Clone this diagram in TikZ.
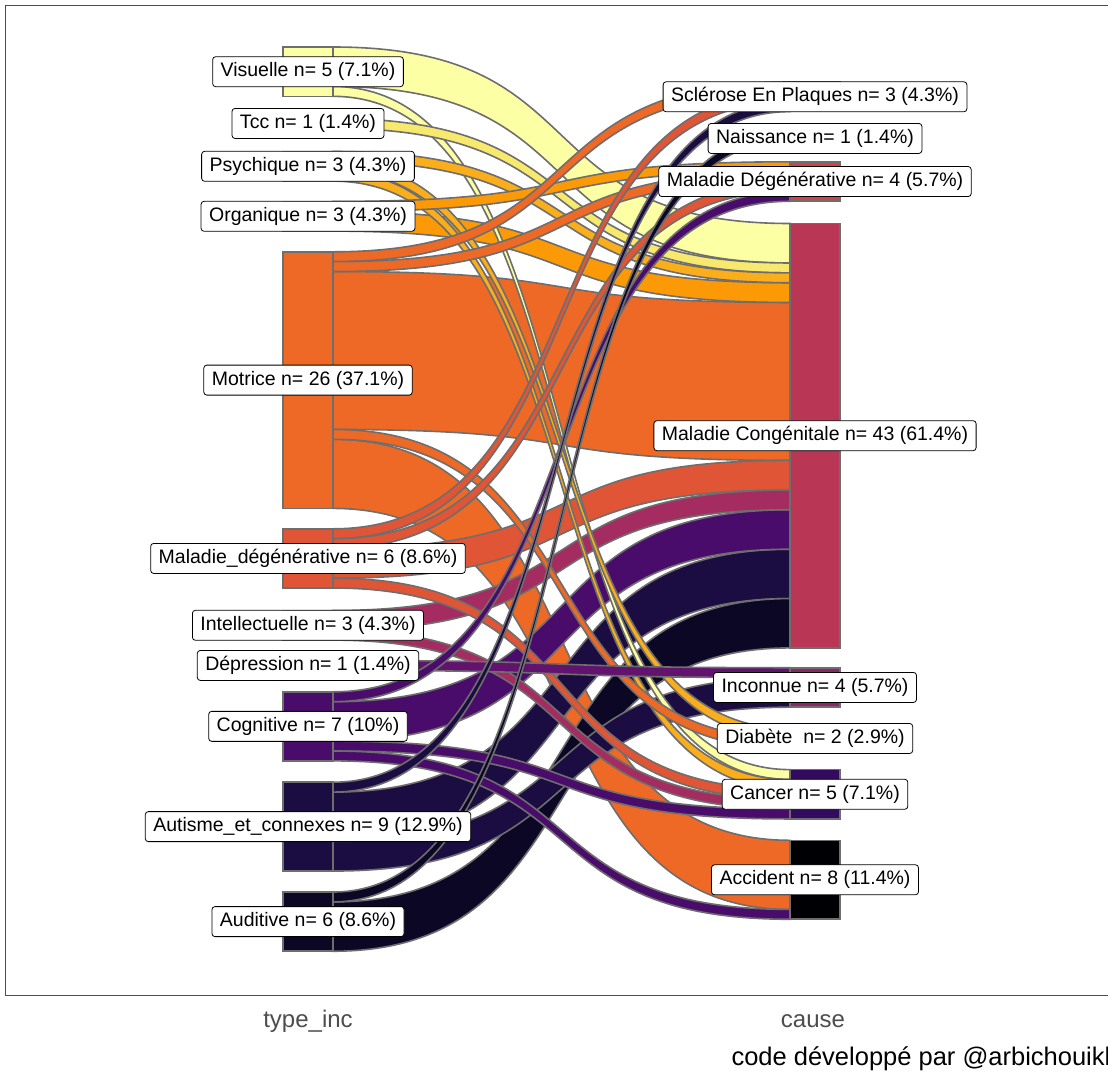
\documentclass[tikz,border=0pt]{standalone}
\usepackage{fontspec}
\setmainfont{Liberation Sans}
\usetikzlibrary{calc}
\pgfdeclarelayer{background}
\pgfdeclarelayer{flows}
\pgfsetlayers{background,flows,main}
% inferno colours, one per category
\definecolor{cAccident}{HTML}{000004}
\definecolor{cAuditive}{HTML}{0B0724}
\definecolor{cAutisme}{HTML}{1B0C41}
\definecolor{cCancer}{HTML}{320A5E}
\definecolor{cCognitive}{HTML}{4A0C6B}
\definecolor{cDepression}{HTML}{61136E}
\definecolor{cDiabete}{HTML}{781C6D}
\definecolor{cInconnue}{HTML}{8F2469}
\definecolor{cIntellect}{HTML}{A52C60}
\definecolor{cCongen}{HTML}{BA3655}
\definecolor{cMalDeg}{HTML}{CF4446}
\definecolor{cMalDegen}{HTML}{E05536}
\definecolor{cMotrice}{HTML}{ED6925}
\definecolor{cNaissance}{HTML}{F4811A}
\definecolor{cOrganique}{HTML}{FB9A06}
\definecolor{cPsychique}{HTML}{FAAE1C}
\definecolor{cSclerose}{HTML}{F7D03C}
\definecolor{cTcc}{HTML}{F7E96E}
\definecolor{cVisuelle}{HTML}{FCFFA4}
\definecolor{edgegray}{HTML}{6E6E6E}
\definecolor{axisgray}{HTML}{4D4D4D}
\tikzset{
    nodebar/.style = {draw=edgegray, line width=1.6pt, fill=#1, minimum width=50pt,
                      inner sep=0pt, outer sep=0pt, anchor=north west},
    flowline/.style = {draw=edgegray, line width=1.6pt},
    lbl/.style = {draw=black, fill=white, rounded corners=3pt, line width=0.8pt,
                  font=\fontsize{19.5}{22}\selectfont, inner xsep=8pt, inner ysep=6pt,
                  text height=14pt, text depth=4pt},
    axislbl/.style = {font=\fontsize{24}{28}\selectfont, text=axisgray},
}
\newcommand\flowunit{9.87pt}
\newcommand\bendlen{270}
% #1 source, #2 offset at source, #3 target, #4 offset at target, #5 size, #6 colour
\newcommand\sankeyflow[6]{%
  \path ([yshift=-#2*\flowunit]#1.north east) coordinate (fa)
        ([yshift=-(#2+#5)*\flowunit]#1.north east) coordinate (fc)
        ([yshift=-#4*\flowunit]#3.north west) coordinate (fb)
        ([yshift=-(#4+#5)*\flowunit]#3.north west) coordinate (fd);
  \draw[flowline, fill=#6] (fa) .. controls +(\bendlen,0) and +(-\bendlen,0) .. (fb)
       -- (fd) .. controls +(-\bendlen,0) and +(\bendlen,0) .. (fc) -- cycle;
}
\begin{document}
\begin{tikzpicture}[x=1pt, y=-1pt]
    \useasboundingbox (0,0) rectangle (1108,1076);
    \begin{pgfonlayer}{background}
        \fill[white] (0,0) rectangle (1108,1076);
        \draw[axisgray, line width=1pt] (1120,5) -- (5,5) -- (5,995) -- (1120,995);
    \end{pgfonlayer}

    % type_inc column
    \node[nodebar=cVisuelle,   minimum height=5*\flowunit]  (visuelle)   at (283,47)    {};
    \node[nodebar=cTcc,        minimum height=1*\flowunit]  (tcc)        at (283,118.5) {};
    \node[nodebar=cPsychique,  minimum height=3*\flowunit]  (psychique)  at (283,151.5) {};
    \node[nodebar=cOrganique,  minimum height=3*\flowunit]  (organique)  at (283,201.5) {};
    \node[nodebar=cMotrice,    minimum height=26*\flowunit] (motrice)    at (283,251.8) {};
    \node[nodebar=cMalDegen,   minimum height=6*\flowunit]  (maldegen)   at (283,528.8) {};
    \node[nodebar=cIntellect,  minimum height=3*\flowunit]  (intellect)  at (283,610.5) {};
    \node[nodebar=cDepression, minimum height=1*\flowunit]  (depression) at (283,660.5) {};
    \node[nodebar=cCognitive,  minimum height=7*\flowunit]  (cognitive)  at (283,691.8) {};
    \node[nodebar=cAutisme,    minimum height=9*\flowunit]  (autisme)    at (283,782.2) {};
    \node[nodebar=cAuditive,   minimum height=6*\flowunit]  (auditive)   at (283,892)   {};

    % cause column
    \node[nodebar=cSclerose,   minimum height=3*\flowunit]  (sclerose)    at (790,82)    {};
    \node[nodebar=cNaissance,  minimum height=1*\flowunit]  (naissance)   at (790,130.5) {};
    \node[nodebar=cMalDeg,     minimum height=4*\flowunit]  (maladiedeg)  at (790,161.8) {};
    \node[nodebar=cCongen,     minimum height=43*\flowunit] (congenitale) at (790,223.5) {};
    \node[nodebar=cInconnue,   minimum height=4*\flowunit]  (inconnue)    at (790,667.7) {};
    \node[nodebar=cDiabete,    minimum height=2*\flowunit]  (diabete)     at (790,728.6) {};
    \node[nodebar=cCancer,     minimum height=5*\flowunit]  (cancer)      at (790,769.6) {};
    \node[nodebar=cAccident,   minimum height=8*\flowunit]  (accident)    at (790,840.3) {};

    \begin{pgfonlayer}{flows}
        \sankeyflow{motrice}{2}{congenitale}{8}{16}{cMotrice}
        \sankeyflow{motrice}{19}{accident}{0}{7}{cMotrice}
        \sankeyflow{autisme}{1}{congenitale}{33}{5}{cAutisme}
        \sankeyflow{auditive}{1}{congenitale}{38}{5}{cAuditive}
        \sankeyflow{visuelle}{0}{congenitale}{0}{4}{cVisuelle}
        \sankeyflow{cognitive}{1}{congenitale}{29}{4}{cCognitive}
        \sankeyflow{maldegen}{2}{congenitale}{24}{3}{cMalDegen}
        \sankeyflow{autisme}{6}{inconnue}{1}{3}{cAutisme}
        \sankeyflow{organique}{1}{congenitale}{6}{2}{cOrganique}
        \sankeyflow{intellect}{0}{congenitale}{27}{2}{cIntellect}
        \sankeyflow{visuelle}{4}{cancer}{0}{1}{cVisuelle}
        \sankeyflow{tcc}{0}{congenitale}{4}{1}{cTcc}
        \sankeyflow{psychique}{0}{congenitale}{5}{1}{cPsychique}
        \sankeyflow{psychique}{1}{diabete}{0}{1}{cPsychique}
        \sankeyflow{psychique}{2}{cancer}{1}{1}{cPsychique}
        \sankeyflow{organique}{0}{maladiedeg}{0}{1}{cOrganique}
        \sankeyflow{motrice}{0}{sclerose}{0}{1}{cMotrice}
        \sankeyflow{motrice}{1}{maladiedeg}{1}{1}{cMotrice}
        \sankeyflow{motrice}{18}{diabete}{1}{1}{cMotrice}
        \sankeyflow{maldegen}{0}{sclerose}{1}{1}{cMalDegen}
        \sankeyflow{maldegen}{1}{maladiedeg}{2}{1}{cMalDegen}
        \sankeyflow{maldegen}{5}{cancer}{2}{1}{cMalDegen}
        \sankeyflow{intellect}{2}{cancer}{3}{1}{cIntellect}
        \sankeyflow{depression}{0}{inconnue}{0}{1}{cDepression}
        \sankeyflow{cognitive}{0}{maladiedeg}{3}{1}{cCognitive}
        \sankeyflow{cognitive}{5}{cancer}{4}{1}{cCognitive}
        \sankeyflow{cognitive}{6}{accident}{7}{1}{cCognitive}
        \sankeyflow{autisme}{0}{sclerose}{2}{1}{cAutisme}
        \sankeyflow{auditive}{0}{naissance}{0}{1}{cAuditive}
    \end{pgfonlayer}

    % labels
    \node[lbl] (lvisuelle)   at (visuelle)   {Visuelle n= 5 (7.1\%)};
    \node[lbl] (ltcc)        at (tcc)        {Tcc n= 1 (1.4\%)};
    \node[lbl] (lpsychique)  at (psychique)  {Psychique n= 3 (4.3\%)};
    \node[lbl] (lorganique)  at (organique)  {Organique n= 3 (4.3\%)};
    \node[lbl] (lmotrice)    at (motrice)    {Motrice n= 26 (37.1\%)};
    \node[lbl] (lmaldegen)   at (maldegen)   {Maladie\_dégénérative n= 6 (8.6\%)};
    \node[lbl] (lintellect)  at (intellect)  {Intellectuelle n= 3 (4.3\%)};
    \node[lbl] (ldepression) at (depression) {Dépression n= 1 (1.4\%)};
    \node[lbl] (lcognitive)  at (cognitive)  {Cognitive n= 7 (10\%)};
    \node[lbl] (lautisme)    at (autisme)    {Autisme\_et\_connexes n= 9 (12.9\%)};
    \node[lbl] (lauditive)   at (auditive)   {Auditive n= 6 (8.6\%)};

    \node[lbl] (lsclerose)    at (sclerose)    {Sclérose En Plaques n= 3 (4.3\%)};
    \node[lbl] (lnaissance)   at ([yshift=-3pt]naissance)   {Naissance n= 1 (1.4\%)};
    \node[lbl] (lmaladiedeg)  at (maladiedeg)  {Maladie Dégénérative n= 4 (5.7\%)};
    \node[lbl] (lcongenitale) at (congenitale) {Maladie Congénitale n= 43 (61.4\%)};
    \node[lbl] (linconnue)    at (inconnue)    {Inconnue n= 4 (5.7\%)};
    \node[lbl] (ldiabete)     at (diabete)     {Diabète\ \ n= 2 (2.9\%)};
    \node[lbl] (lcancer)      at (cancer)      {Cancer n= 5 (7.1\%)};
    \node[lbl] (laccident)    at (accident)    {Accident n= 8 (11.4\%)};

    % axis titles and caption (runs off the right edge, as in the original)
    \node[axislbl] (xleft)  at (308,1021) {type\_inc};
    \node[axislbl] (xright) at (813,1021) {cause};
    \node[font=\fontsize{25.5}{28}\selectfont, anchor=base west] (credit) at (728,1065)
        {code développé par @arbichouikh};
\end{tikzpicture}
\end{document}
